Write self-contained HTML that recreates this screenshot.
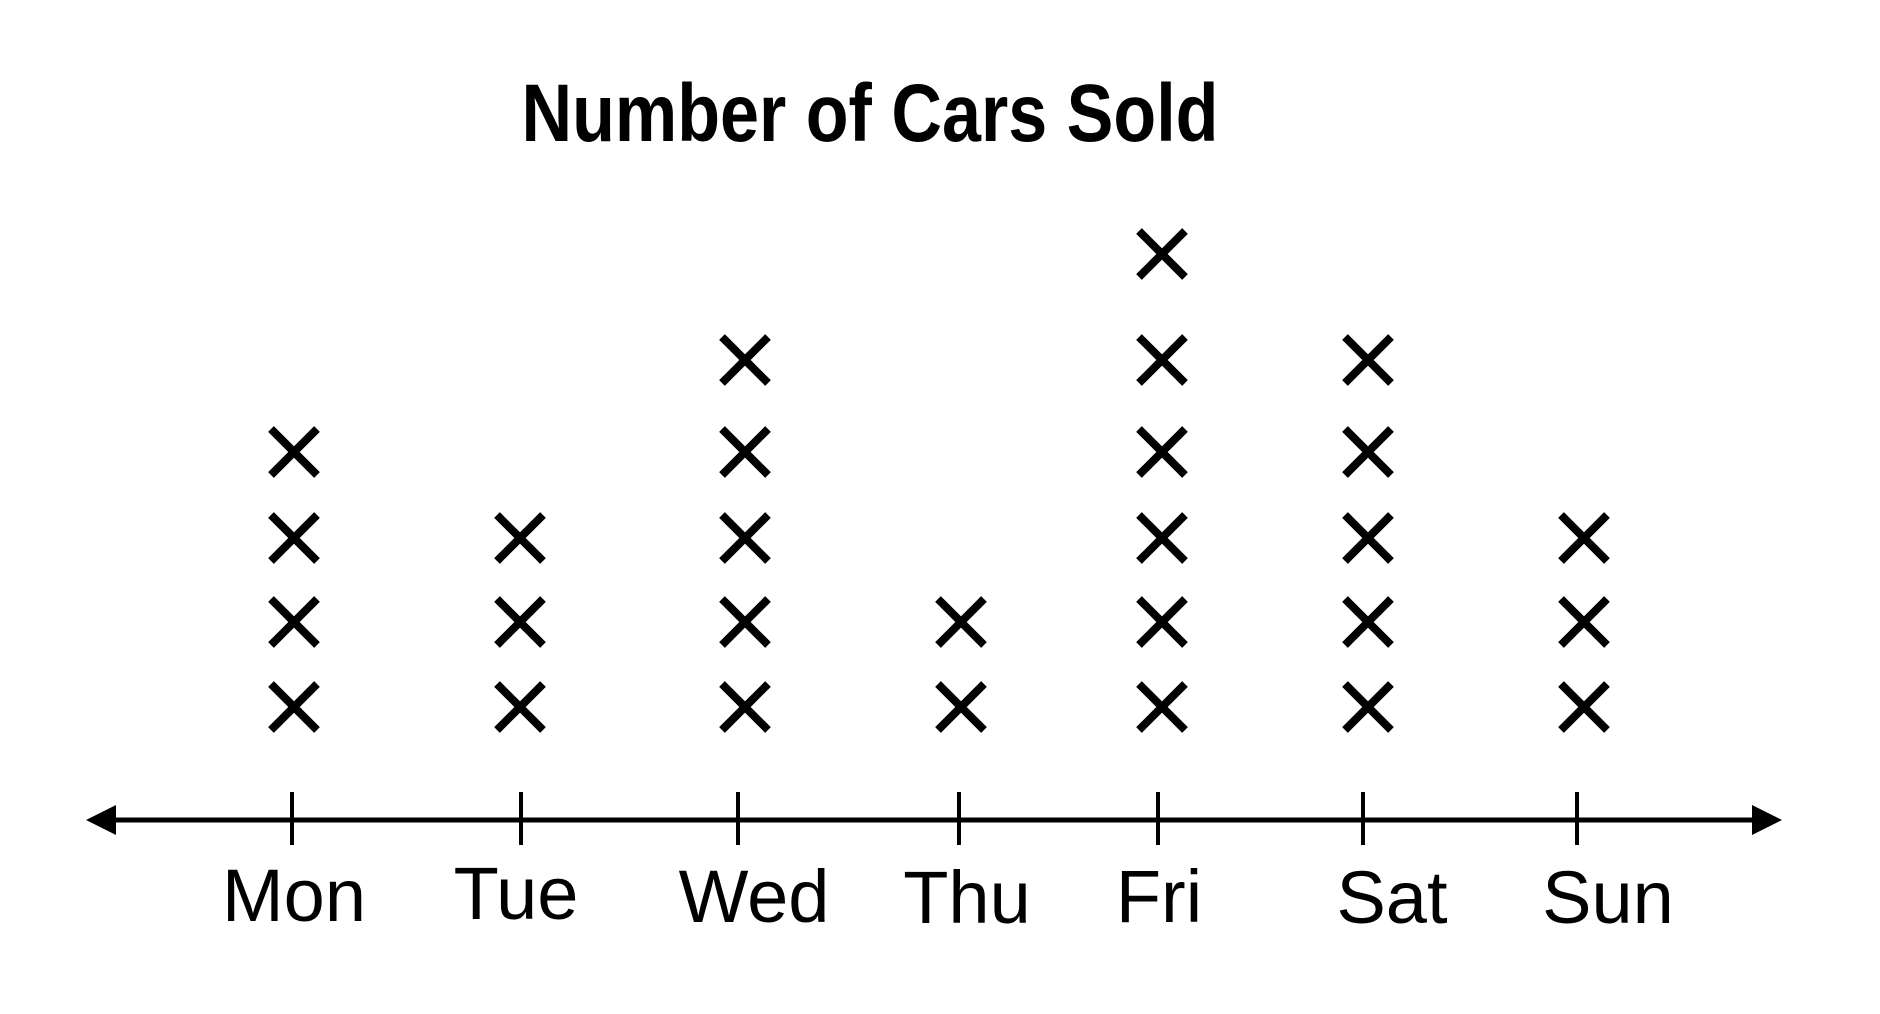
<!DOCTYPE html>
<html><head><style>html,body{margin:0;padding:0;background:#fff}</style></head>
<body>
<svg width="1880" height="1009" viewBox="0 0 1880 1009" xmlns="http://www.w3.org/2000/svg">
<rect width="1880" height="1009" fill="#fff"/>
<text x="870" y="141" text-anchor="middle" font-family="Liberation Sans, sans-serif" font-weight="bold" font-size="82" textLength="697" lengthAdjust="spacingAndGlyphs" fill="#000">Number of Cars Sold</text>
<line x1="105" y1="820" x2="1765" y2="820" stroke="#000" stroke-width="5"/>
<polygon points="86,820 116,805 116,835" fill="#000"/>
<polygon points="1782,820 1752,805 1752,835" fill="#000"/>
<g stroke="#000" stroke-width="4">
<line x1="292" y1="792" x2="292" y2="845"/><line x1="521" y1="792" x2="521" y2="845"/><line x1="738" y1="792" x2="738" y2="845"/><line x1="959" y1="792" x2="959" y2="845"/><line x1="1158" y1="792" x2="1158" y2="845"/><line x1="1363" y1="792" x2="1363" y2="845"/><line x1="1577" y1="792" x2="1577" y2="845"/>
</g>
<defs><g id="x"><line x1="-23" y1="-23" x2="23" y2="23"/><line x1="-23" y1="23" x2="23" y2="-23"/></g></defs>
<g stroke="#000" stroke-width="8">
<use href="#x" x="294" y="707"/><use href="#x" x="294" y="622"/><use href="#x" x="294" y="538"/><use href="#x" x="294" y="452"/>
<use href="#x" x="520" y="707"/><use href="#x" x="520" y="622"/><use href="#x" x="520" y="538"/>
<use href="#x" x="745" y="707"/><use href="#x" x="745" y="622"/><use href="#x" x="745" y="538"/><use href="#x" x="745" y="452"/><use href="#x" x="745" y="360"/>
<use href="#x" x="961" y="707"/><use href="#x" x="961" y="622"/>
<use href="#x" x="1162" y="707"/><use href="#x" x="1162" y="622"/><use href="#x" x="1162" y="538"/><use href="#x" x="1162" y="452"/><use href="#x" x="1162" y="360"/><use href="#x" x="1162" y="254"/>
<use href="#x" x="1368" y="707"/><use href="#x" x="1368" y="622"/><use href="#x" x="1368" y="538"/><use href="#x" x="1368" y="452"/><use href="#x" x="1368" y="360"/>
<use href="#x" x="1584" y="707"/><use href="#x" x="1584" y="622"/><use href="#x" x="1584" y="538"/>
</g>
<g font-family="Liberation Sans, sans-serif" font-size="74" text-anchor="middle" fill="#000">
<text x="294" y="921">Mon</text><text x="516" y="919">Tue</text><text x="754" y="922">Wed</text><text x="967" y="923">Thu</text><text x="1159" y="922">Fri</text><text x="1392" y="923">Sat</text><text x="1608" y="923">Sun</text>
</g>
</svg>
</body></html>
